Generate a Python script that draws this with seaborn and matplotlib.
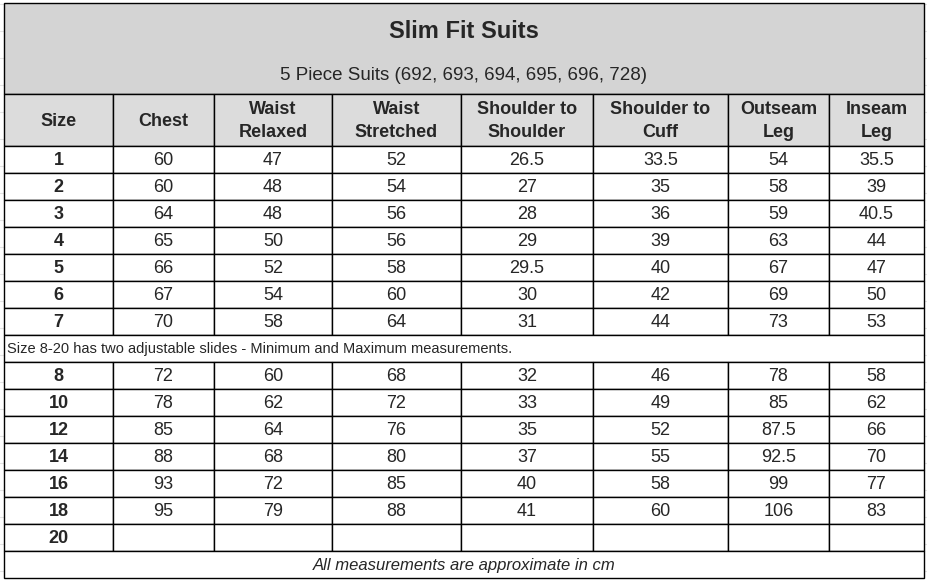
import matplotlib
matplotlib.use("Agg")
import matplotlib.pyplot as plt
import seaborn as sns

sns.set_theme(style="white")
plt.rcParams['font.family'] = ['Liberation Sans', 'DejaVu Sans']

title = "Slim Fit Suits"
subtitle = "5 Piece Suits (692, 693, 694, 695, 696, 728)"
headers = ["Size", "Chest", "Waist\nRelaxed", "Waist\nStretched", "Shoulder to\nShoulder",
           "Shoulder to\nCuff", "Outseam\nLeg", "Inseam\nLeg"]
sizes_a = ["1", "2", "3", "4", "5", "6", "7"]
chest_a = ["60", "60", "64", "65", "66", "67", "70"]
waist_rel_a = ["47", "48", "48", "50", "52", "54", "58"]
waist_str_a = ["52", "54", "56", "56", "58", "60", "64"]
sh_sh_a = ["26.5", "27", "28", "29", "29.5", "30", "31"]
sh_cuff_a = ["33.5", "35", "36", "39", "40", "42", "44"]
outseam_a = ["54", "58", "59", "63", "67", "69", "73"]
inseam_a = ["35.5", "39", "40.5", "44", "47", "50", "53"]
note = "Size 8-20 has two adjustable slides - Minimum and Maximum measurements."
sizes_b = ["8", "10", "12", "14", "16", "18", "20"]
chest_b = ["72", "78", "85", "88", "93", "95", ""]
waist_rel_b = ["60", "62", "64", "68", "72", "79", ""]
waist_str_b = ["68", "72", "76", "80", "85", "88", ""]
sh_sh_b = ["32", "33", "35", "37", "40", "41", ""]
sh_cuff_b = ["46", "49", "52", "55", "58", "60", ""]
outseam_b = ["78", "85", "87.5", "92.5", "99", "106", ""]
inseam_b = ["58", "62", "66", "70", "77", "83", ""]
footer = "All measurements are approximate in cm"

cols_a = [sizes_a, chest_a, waist_rel_a, waist_str_a, sh_sh_a, sh_cuff_a, outseam_a, inseam_a]
cols_b = [sizes_b, chest_b, waist_rel_b, waist_str_b, sh_sh_b, sh_cuff_b, outseam_b, inseam_b]

W, H = 928, 581
fig = plt.figure(figsize=(W / 100, H / 100), dpi=100)
ax = fig.add_axes([0, 0, 1, 1])
ax.set_xlim(0, W)
ax.set_ylim(H, 0)
ax.axis("off")

xb = [4, 113, 214, 332, 461, 593, 728, 829, 924]
# faint sheet gridlines
for y in range(4, H, 27):
    ax.plot([0, W], [y, y], color="#e3e3e3", lw=0.8, zorder=0)

def rect(x0, y0, x1, y1, fc="white", lw=1.0):
    ax.add_patch(plt.Rectangle((x0, y0), x1 - x0, y1 - y0, facecolor=fc,
                               edgecolor="black", lw=lw, zorder=1))

# title block
rect(xb[0], 3, xb[-1], 94, fc="#d4d4d4")
ax.text(464, 31, title, ha="center", va="center", fontsize=17, fontweight="bold", zorder=3)
ax.text(464, 75, subtitle, ha="center", va="center", fontsize=13.5, zorder=3)
# header
for i, h in enumerate(headers):
    rect(xb[i], 94, xb[i + 1], 146, fc="#dcdcdc")
    ax.text((xb[i] + xb[i + 1]) / 2, 121, h, ha="center", va="center", fontsize=13,
            fontweight="bold", linespacing=1.45, zorder=3)

rh = 27
def draw_rows(cols, y0):
    for r in range(len(cols[0])):
        ya = y0 + r * rh
        for i, col in enumerate(cols):
            rect(xb[i], ya, xb[i + 1], ya + rh)
            ax.text((xb[i] + xb[i + 1]) / 2, ya + rh / 2 + 1, col[r], ha="center", va="center",
                    fontsize=13, fontweight="bold" if i == 0 else "normal", zorder=3)

draw_rows(cols_a, 146)
ny = 146 + 7 * rh
rect(xb[0], ny, xb[-1], ny + rh)
ax.text(7, ny + rh / 2 + 1, note, ha="left", va="center", fontsize=10.5, zorder=3)
draw_rows(cols_b, ny + rh)
fy = ny + rh + 7 * rh
rect(xb[0], fy, xb[-1], fy + rh)
ax.text(464, fy + rh / 2 + 1, footer, ha="center", va="center", fontsize=12,
        fontstyle="italic", zorder=3)

fig.savefig("out.png", dpi=100)
